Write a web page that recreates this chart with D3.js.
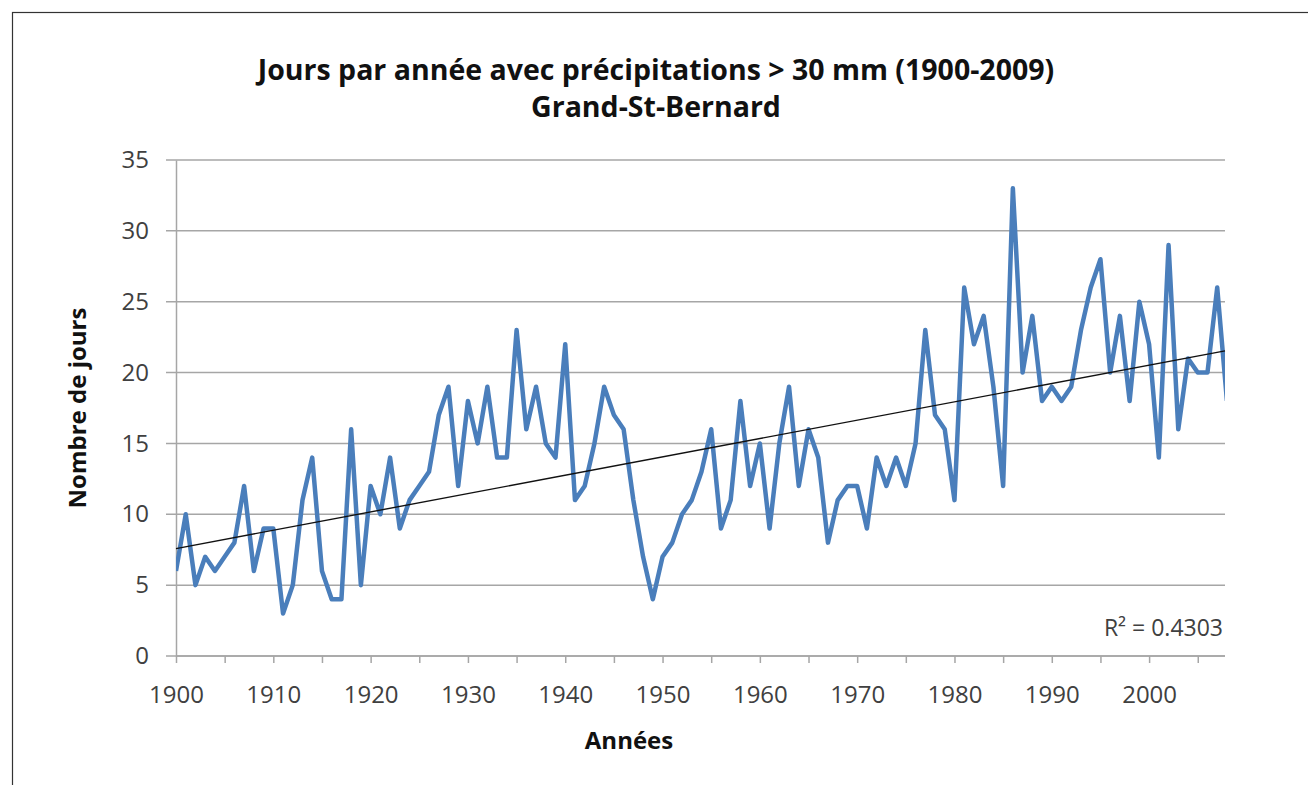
<!DOCTYPE html>
<html>
  <head>
    <meta charset="utf-8">
    <script src="https://cdnjs.cloudflare.com/ajax/libs/d3/7.8.5/d3.min.js"></script>
<style>
  body {
      margin: 0;
      background: #fff;
  }
  text {
      font-family: "Open Sans", Lato, sans-serif;
  }
</style>
  </head>
  <body>
    <div id="vis"></div>
    <script type="text/javascript">

      // jours par an avec > 30 mm, Grand-St-Bernard, 1900..2008
      const firstYear = 1900;
      const jours = [
        6, 10, 5, 7, 6, 7, 8, 12, 6, 9,
        9, 3, 5, 11, 14, 6, 4, 4, 16, 5,
        12, 10, 14, 9, 11, 12, 13, 17, 19, 12,
        18, 15, 19, 14, 14, 23, 16, 19, 15, 14,
        22, 11, 12, 15, 19, 17, 16, 11, 7, 4,
        7, 8, 10, 11, 13, 16, 9, 11, 18, 12,
        15, 9, 15, 19, 12, 16, 14, 8, 11, 12,
        12, 9, 14, 12, 14, 12, 15, 23, 17, 16,
        11, 26, 22, 24, 19, 12, 33, 20, 24, 18,
        19, 18, 19, 23, 26, 28, 20, 24, 18, 25,
        22, 14, 29, 16, 21, 20, 20, 26, 18
      ];
      const yTicks = [0, 5, 10, 15, 20, 25, 30, 35];
      const xLabels = [1900, 1910, 1920, 1930, 1940, 1950, 1960, 1970, 1980, 1990, 2000];
      const xMinor = d3.range(1900, 2010, 5);
      const titleLines = ["Jours par année avec précipitations > 30 mm (1900-2009)", "Grand-St-Bernard"];
      const r2Text = "R² = 0.4303";

      const w = 1308;
      const h = 785;
      const plot = {left: 176, right: 1225, top: 160, bottom: 656};

      const data = jours.map((v, i) => ({year: firstYear + i, v: v}));

      const svg = d3.select("#vis")
          .append("svg")
          .attr("width", w)
          .attr("height", h);

      // cadre du graphique
      svg.append("rect")
          .attr("x", 12.5).attr("y", 12.5)
          .attr("width", w).attr("height", h)
          .attr("fill", "none")
          .attr("stroke", "#333")
          .attr("stroke-width", 1.2);

      const xScale = d3.scaleLinear().domain([1900, 2007.8]).range([plot.left, plot.right]);
      const yScale = d3.scaleLinear().domain([0, 35]).range([plot.bottom, plot.top]);

      // grille horizontale
      svg.append("g")
          .selectAll("line")
          .data(yTicks)
          .join("line")
          .attr("x1", plot.left - 10)
          .attr("x2", plot.right)
          .attr("y1", d => yScale(d))
          .attr("y2", d => yScale(d))
          .attr("stroke", "#a6a6a6")
          .attr("stroke-width", 1.5);

      // axe y
      const yAxis = d3.axisLeft(yScale).tickValues(yTicks).tickSize(0).tickPadding(27);
      const gy = svg.append("g")
          .attr("transform", "translate(" + plot.left + ",0)")
          .call(yAxis);
      gy.select(".domain").attr("stroke", "#a6a6a6").attr("stroke-width", 1.5);
      gy.selectAll("text")
          .attr("font-size", 24)
          .attr("fill", "#404040")
          .attr("font-family", "'Open Sans', sans-serif");

      // axe x
      const xAxis = d3.axisBottom(xScale).tickValues(xMinor).tickSize(7)
          .tickFormat(d => xLabels.includes(d) ? d : "");
      const gx = svg.append("g")
          .attr("transform", "translate(0," + plot.bottom + ")")
          .call(xAxis);
      gx.select(".domain").attr("stroke", "#a6a6a6").attr("stroke-width", 1.5).attr("d", "M" + plot.left + ",0H" + plot.right);
      gx.selectAll(".tick line").attr("stroke", "#a6a6a6").attr("stroke-width", 1.5);
      gx.selectAll("text")
          .attr("y", 47)
          .attr("dy", 0)
          .attr("font-size", 24)
          .attr("fill", "#404040")
          .attr("font-family", "'Open Sans', sans-serif");

      // série
      svg.append("clipPath").attr("id", "clip")
          .append("rect")
          .attr("x", plot.left).attr("y", 0)
          .attr("width", plot.right - plot.left).attr("height", h);

      svg.append("path")
          .datum(data)
          .attr("clip-path", "url(#clip)")
          .attr("fill", "none")
          .attr("stroke", "#4a7ebb")
          .attr("stroke-width", 4.5)
          .attr("stroke-linejoin", "round")
          .attr("d", d3.line().x(d => xScale(d.year)).y(d => yScale(d.v)));

      // tendance linéaire
      const mx = d3.mean(data, d => d.year);
      const my = d3.mean(data, d => d.v);
      const slope = d3.sum(data, d => (d.year - mx) * (d.v - my)) / d3.sum(data, d => (d.year - mx) ** 2);
      const trend = xScale.domain().map(x => ({year: x, v: my + slope * (x - mx)}));
      svg.append("path")
          .datum(trend)
          .attr("fill", "none")
          .attr("stroke", "#111")
          .attr("stroke-width", 1.4)
          .attr("d", d3.line().x(d => xScale(d.year)).y(d => yScale(d.v)));

      svg.append("text")
          .attr("x", plot.right - 2)
          .attr("y", 636)
          .attr("text-anchor", "end")
          .attr("font-size", 23)
          .attr("fill", "#404040")
          .text(r2Text);

      // titres
      svg.append("g")
          .selectAll("text")
          .data(titleLines)
          .join("text")
          .attr("x", 656)
          .attr("y", (d, i) => 80 + i * 37)
          .attr("text-anchor", "middle")
          .attr("font-size", 28.5)
          .attr("font-weight", "bold")
          .attr("fill", "#111")
          .text(d => d);

      svg.append("text")
          .attr("x", 629)
          .attr("y", 749)
          .attr("text-anchor", "middle")
          .attr("font-size", 24)
          .attr("font-weight", "bold")
          .attr("fill", "#111")
          .text("Années");

      svg.append("text")
          .attr("transform", "translate(86,408) rotate(-90)")
          .attr("text-anchor", "middle")
          .attr("font-size", 24)
          .attr("font-weight", "bold")
          .attr("fill", "#111")
          .text("Nombre de jours");

    </script>
  </body>
</html>
